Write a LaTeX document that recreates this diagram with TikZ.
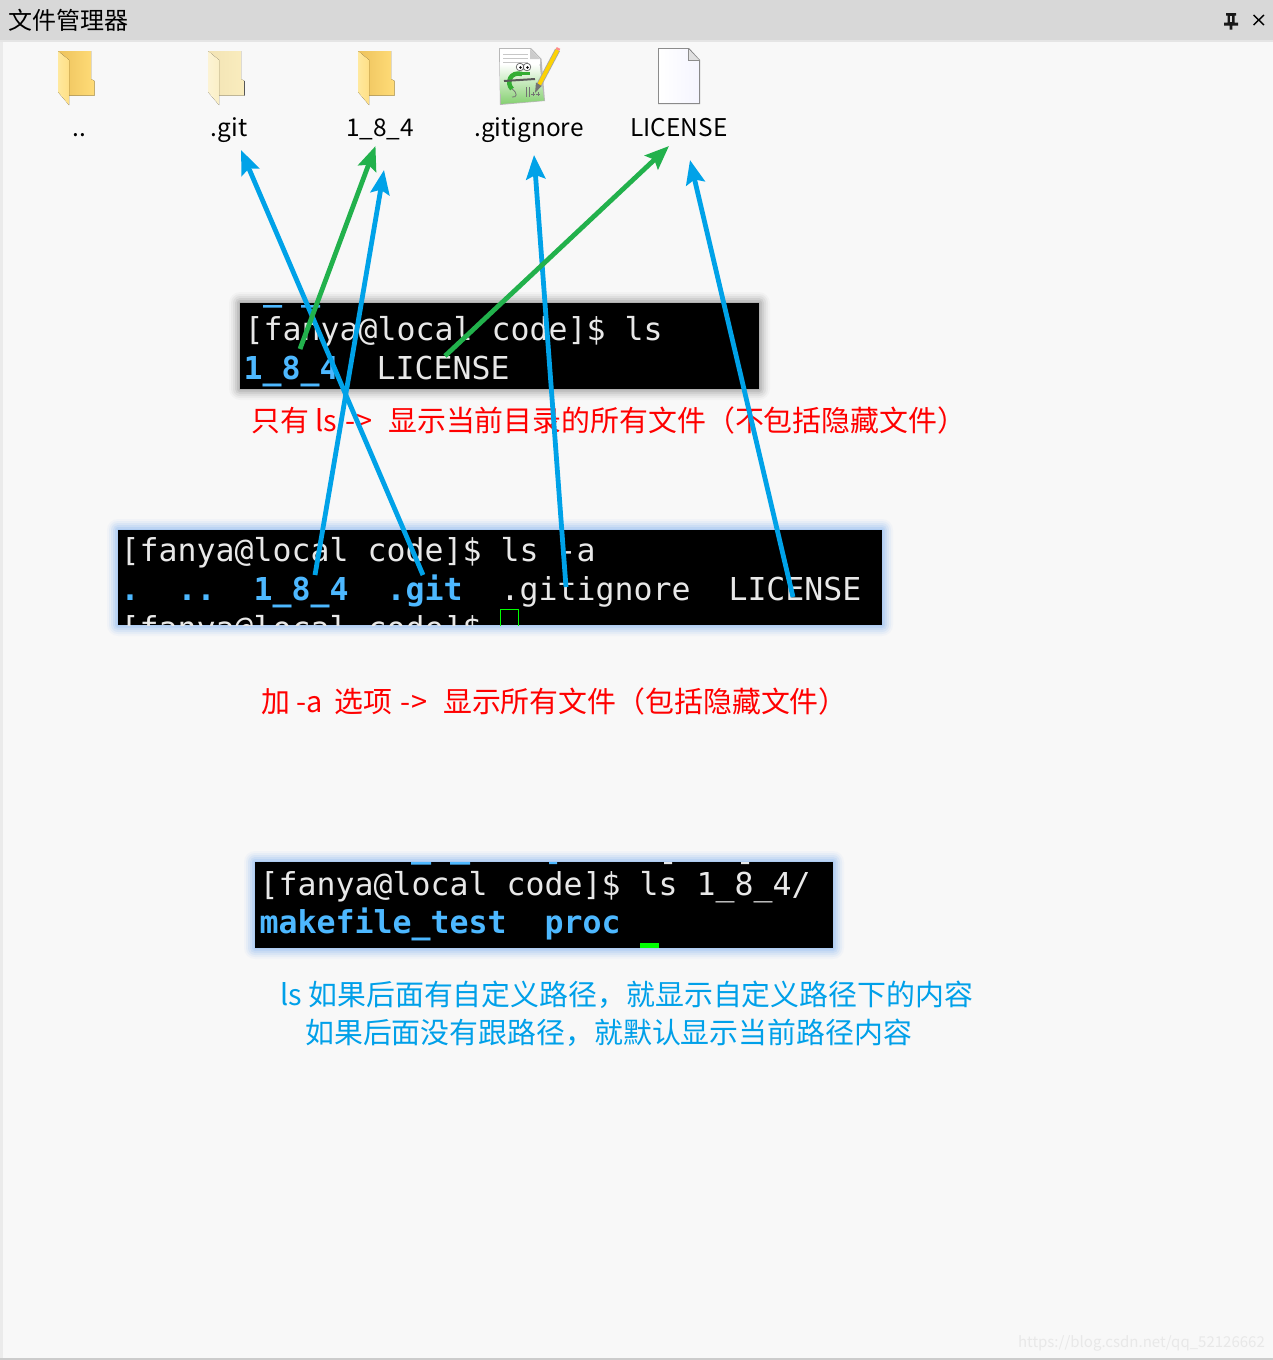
\documentclass[tikz,border=0pt]{standalone}
\usepackage{fontspec}
\setmainfont{Noto Sans CJK SC}
\setmonofont{DejaVu Sans Mono}
\usetikzlibrary{arrows.meta}
\definecolor{pagebg}{HTML}{F8F8F8}
\definecolor{barbg}{HTML}{D8D8D8}
\definecolor{termfg}{HTML}{E8E8E8}
\definecolor{termblue}{HTML}{4DB8FF}
\definecolor{arrowblue}{HTML}{00A2E8}
\definecolor{arrowgreen}{HTML}{22B14C}
\definecolor{noteblue}{HTML}{00A0E9}
\definecolor{cursorgreen}{HTML}{00FF00}
\definecolor{glowblue}{HTML}{6FA8F0}
\definecolor{iconyellow}{HTML}{FFF59A}
\definecolor{icongreen}{HTML}{85D070}
\newcommand{\termfont}{\fontsize{31.55}{36}\selectfont\ttfamily}
\newcommand{\bluebf}[1]{\textcolor{termblue}{\bfseries #1}}
\tikzset{
  x=1pt,y=-1pt,
  termline/.style={anchor=base west,inner sep=0pt,text=termfg,font=\termfont},
  iconlabel/.style={anchor=base,inner sep=0pt,text=black,font=\fontsize{24.4}{30}\selectfont},
  rednote/.style={anchor=base west,inner sep=0pt,text=red,font=\fontsize{28.9}{34}\selectfont},
  bluenote/.style={anchor=base west,inner sep=0pt,text=noteblue,font=\fontsize{28.9}{34}\selectfont},
  bluearrow/.style={draw=arrowblue,line width=4.8pt,-{Stealth[length=24pt,width=19pt,inset=4pt]}},
  greenarrow/.style={draw=arrowgreen,line width=4.8pt,-{Stealth[length=24pt,width=19pt,inset=4pt]}},
  folderpic/.pic={
    \fill[left color=folderC,right color=folderB] (0,0) -- (33,0) -- (33,28) -- (36.5,30) -- (36.5,44.5) -- (11,44.5) -- (0,30) -- cycle;
    \fill[left color=folderD,right color=folderA] (0,0) -- (11,9) -- (11,54) -- (0,41) -- cycle;
  },
}
\newcommand{\setfolder}[4]{\definecolor{folderA}{HTML}{#1}\definecolor{folderB}{HTML}{#2}\definecolor{folderC}{HTML}{#3}\definecolor{folderD}{HTML}{#4}}
\begin{document}
\begin{tikzpicture}
\useasboundingbox (0,0) rectangle (1273,1360);
% window
\fill[pagebg] (0,0) rectangle (1273,1360);
\fill[white!92!black] (0,0) rectangle (3,1360);
\fill[barbg] (0,0) rectangle (1273,40);
\fill[white!90!black] (0,40) rectangle (1273,42);
\fill[white!80!black] (0,1358) rectangle (1273,1360);
\node[anchor=base west,inner sep=0pt,text=black,font=\fontsize{24}{28}\selectfont] (title) at (8,29) {文件管理器};
% pin and close
\fill[black!90] (1226,13) rectangle (1236,15.5) (1227.5,15) rectangle (1234.5,23) (1224,22.5) rectangle (1238,25.5) (1229.7,25) rectangle (1232.3,29.5);
\fill[barbg] (1230.3,16) rectangle (1231.8,22);
\draw[black,line width=1.4pt] (1253.5,15) -- (1264,25) (1264,15) -- (1253.5,25);
% folders
\setfolder{FFDF86}{FFDC78}{EDC25C}{FFE99E}
\pic at (58,51) {folderpic};
\setfolder{FAEFC6}{FAEDBE}{F2E3B4}{FCF3D4}
\pic at (208,51) {folderpic};
\setfolder{FFDF86}{FFDC78}{EDC25C}{FFE99E}
\pic at (358,51) {folderpic};
% notepad++ style icon
\fill[black!28] (499,48) -- (531,48) -- (541.5,59) -- (545,101) -- (500,105) -- cycle;
\shade[top color=white,middle color=iconyellow,bottom color=icongreen] (500,64) -- (539.5,64) -- (544,100.5) -- (501,104) -- cycle;
\fill[white] (500,49) -- (530,49) -- (540,59) -- (540,64) -- (500,64) -- cycle;
\foreach \yy in {54,58,62}{\draw[black!22,line width=.7pt] (503,\yy) -- (528,\yy);}
\fill[black!20] (530,49) -- (530,59) -- (540,59) -- cycle;
\draw[green!60!black!80!white,line width=4.5pt] (522,74) .. controls (510,71) and (506,83) .. (512,89);
\draw[black!55,line width=.8pt] (512,89) .. controls (518,93) and (517,98) .. (512,97);
\fill[green!60!black!80!white] (516,72) rectangle (530,75);
\fill[white,draw=black!60,line width=.7pt] (520,67) circle (3.8) (527,67) circle (3.8);
\fill[black] (520.5,67.5) circle (1.3) (527.5,67.5) circle (1.3);
\draw[black!65,line width=2pt] (504,81) -- (535,79);
\draw[black!55,line width=.9pt] (526,87) -- (526,97) (529,87) -- (529,97) (533,92) -- (533,96) (531,94) -- (535,94) (538,92) -- (538,96) (536,94) -- (540,94);
\draw[black!35,line width=5.4pt] (557.5,50) -- (539,85);
\draw[yellow!70!orange,line width=3.8pt] (557.5,50) -- (539,85);
\draw[red!45!white,line width=4pt] (558.5,48) -- (557.5,50);
\fill[black!55] (541.5,86) -- (536,82.5) -- (535,93) -- cycle;
% blank file icon
\fill[black!45] (658,48) -- (689,48) -- (700,60) -- (700,104) -- (658,104) -- cycle;
\fill[left color=white,right color=blue!4!white] (659,49) -- (688.5,49) -- (699,60.5) -- (699,103) -- (659,103) -- cycle;
\fill[black!12] (688,49) -- (688,60) -- (699,60) -- cycle;
\draw[black!45,line width=.8pt] (688,48.5) -- (688,60) -- (699.5,60);
% icon labels
\node[iconlabel] (dd)  at (79,136)  {..};
\node[iconlabel] (git) at (229,136) {.git};
\node[iconlabel] (dir) at (380,136) {1\_8\_4};
\node[iconlabel] (ign) at (529,136) {.gitignore};
\node[iconlabel] (lic) at (679,136) {LICENSE};
% shadows
\foreach \g/\o in {11/.02,9/.03,7/.04,5/.05,3/.06,1/.07}{
  \fill[black,opacity=\o*1.2,rounded corners=\g] (240-\g,303-\g) rectangle (759+\g,389+\g);
  \fill[glowblue,opacity=\o*2.6,rounded corners=\g] (118-\g,530-\g) rectangle (882+\g,625+\g);
  \fill[glowblue,opacity=\o*2.6,rounded corners=\g] (255-\g,862-\g) rectangle (833+\g,948+\g);
}
% terminal 1
\node[fill=black,anchor=north west,inner sep=0pt,minimum width=519pt,minimum height=86pt] (term1) at (240,303) {};
\fill[termblue] (263,305) rectangle (282,307.5) (301,305) rectangle (320,307.5);
\node[termline] (t1a) at (244.5,340) {[fanya@local code]\$ ls};
\node[termline] (t1b) at (243.5,379) {\bluebf{1\_8\_4}~~LICENSE};
% terminal 2
\node[fill=black,anchor=north west,inner sep=0pt,minimum width=764pt,minimum height=95pt] (term2) at (118,530) {};
\node[termline] (t2a) at (120.5,561) {[fanya@local code]\$ ls -a};
\node[termline] (t2b) at (120.5,600) {\bluebf{.}~~\bluebf{..}~~\bluebf{1\_8\_4}~~\bluebf{.git}~~.gitignore~~LICENSE};
\begin{scope}
  \clip (118,530) rectangle (882,625);
  \node[termline] (t2c) at (120.5,639) {[fanya@local code]\$};
  \draw[cursorgreen,line width=1pt] (500.5,609.5) rectangle (518.5,630);
\end{scope}
% terminal 3
\node[fill=black,anchor=north west,inner sep=0pt,minimum width=578pt,minimum height=86pt] (term3) at (255,862) {};
\fill[termblue] (411,862) rectangle (431,864.5) (450,862) rectangle (470,864.5) (549,862) rectangle (557,864);
\fill[termfg] (664,862) rectangle (672,864) (741,862) rectangle (749,864);
\node[termline] (t3a) at (259.5,895) {[fanya@local code]\$ ls 1\_8\_4/};
\node[termline] (t3b) at (259.5,933) {\bluebf{makefile\_test}~~\bluebf{proc}};
\fill[cursorgreen] (640,943) rectangle (659,948);
% notes
\node[rednote] (n1) at (251,431.5) {只有 ls\hspace{2pt} -\hspace{1pt}>\hspace{9pt} 显示当前目录的所有文件（不包括隐藏文件）};
\node[rednote] (n2) at (261,712.5) {加 -a\hspace{5pt} 选项\hspace{2pt} -\hspace{1pt}>\hspace{9pt} 显示所有文件（包括隐藏文件）};
\node[bluenote] (n3) at (280,1005.5) {ls 如果后面有自定义路径，就显示自定义路径下的内容};
\node[bluenote] (n4) at (305,1043.5) {如果后面没有跟路径，就默认显示当前路径内容};
% watermark
\node[anchor=base east,inner sep=0pt,text=black!9,font=\fontsize{15}{20}\selectfont] (wm) at (1265,1347) {https://blog.csdn.net/qq\_52126662};
% connector ends
\coordinate (a1s) at (423,575); \coordinate (a1e) at (241,150);
\coordinate (a2s) at (315,575); \coordinate (a2e) at (384,170);
\coordinate (a3s) at (566,587); \coordinate (a3e) at (534,155);
\coordinate (a4s) at (793,597); \coordinate (a4e) at (690,160);
\coordinate (g1s) at (300,349); \coordinate (g1e) at (375.5,146);
\coordinate (g2s) at (445,356); \coordinate (g2e) at (669,146);
\draw[bluearrow] (a1s) -- (a1e);
\draw[bluearrow] (a2s) -- (a2e);
\draw[bluearrow] (a3s) -- (a3e);
\draw[bluearrow] (a4s) -- (a4e);
\draw[greenarrow] (g1s) -- (g1e);
\draw[greenarrow] (g2s) -- (g2e);
\end{tikzpicture}
\end{document}
